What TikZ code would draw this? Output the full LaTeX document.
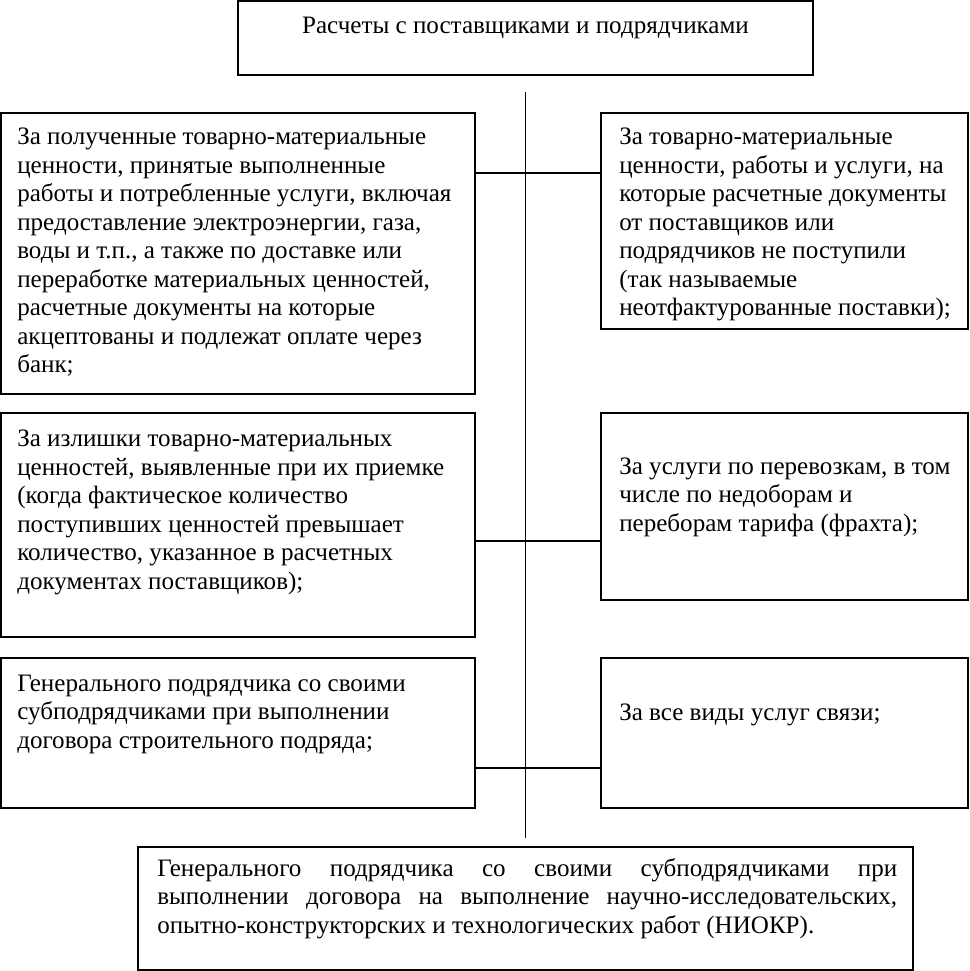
\documentclass[tikz,border=0pt]{standalone}
\usepackage{fontspec}
\setmainfont{Liberation Serif}
\usetikzlibrary{fit}
\hyphenpenalty=10000
\exhyphenpenalty=10000
\tikzset{
  panel/.style={draw, line width=1.2pt, inner sep=0pt},
  txt/.style={anchor=north west, inner sep=0pt, align=left,
              font=\fontsize{18.8}{21.4}\selectfont, execute at begin node={\rule{0pt}{16pt}}},
  link/.style={line width=1.2pt},
}

\begin{document}
\begin{tikzpicture}[x=0.75pt, y=-0.75pt]
  \useasboundingbox (0,0) rectangle (970,971);
  % frames
  \node[panel, fit={(238,1) (813,75)}] (head) {};
  \node[panel, fit={(1,113) (475,394)}] (l1) {};
  \node[panel, fit={(601,113) (968,329)}] (r1) {};
  \node[panel, fit={(1,413) (475,637)}] (l2) {};
  \node[panel, fit={(601,413) (968,600)}] (r2) {};
  \node[panel, fit={(1,658) (475,808)}] (l3) {};
  \node[panel, fit={(601,658) (968,808)}] (r3) {};
  \node[panel, fit={(138,847) (913,970)}] (foot) {};
  % texts
  \node[txt, anchor=base, align=center] (head text) at (525.5,33) {Расчеты с поставщиками и подрядчиками};
  \node[txt] (l1 text) at (17,127.7) {За полученные товарно-материальные\\ценности, принятые выполненные\\работы и потребленные услуги, включая\\предоставление электроэнергии, газа,\\воды и т.п., а также по доставке или\\переработке материальных ценностей,\\расчетные документы на которые\\акцептованы и подлежат оплате через\\банк;};
  \node[txt] (r1 text) at (619,127.7) {За товарно-материальные\\ценности, работы и услуги, на\\которые расчетные документы\\от поставщиков или\\подрядчиков не поступили\\(так называемые\\неотфактурованные поставки);};
  \node[txt] (l2 text) at (17,429.7) {За излишки товарно-материальных\\ценностей, выявленные при их приемке\\(когда фактическое количество\\поступивших ценностей превышает\\количество, указанное в расчетных\\документах поставщиков);};
  \node[txt] (r2 text) at (619,457.2) {За услуги по перевозкам, в том\\числе по недоборам и\\переборам тарифа (фрахта);};
  \node[txt] (l3 text) at (17,674.7) {Генерального подрядчика со своими\\субподрядчиками при выполнении\\договора строительного подряда;};
  \node[txt] (r3 text) at (619,699.2) {За все виды услуг связи;};
  \node[txt, align=justify, text width=555pt] (foot text) at (157,854.7) {Генерального подрядчика со своими субподрядчиками при\linebreak выполнении договора на выполнение научно-исследовательских,\linebreak опытно-конструкторских и технологических работ (НИОКР).};
  % connectors
  \coordinate (spine top) at (525.5,92);
  \coordinate (spine end) at (525.5,838);
  \draw[link] (spine top) -- (spine end);
  \foreach \a/\b/\y in {l1/r1/172.7, l2/r2/541, l3/r3/768}
    \draw[link] (\a.east |- 0,\y) -- (\b.west |- 0,\y);
\end{tikzpicture}
\end{document}
